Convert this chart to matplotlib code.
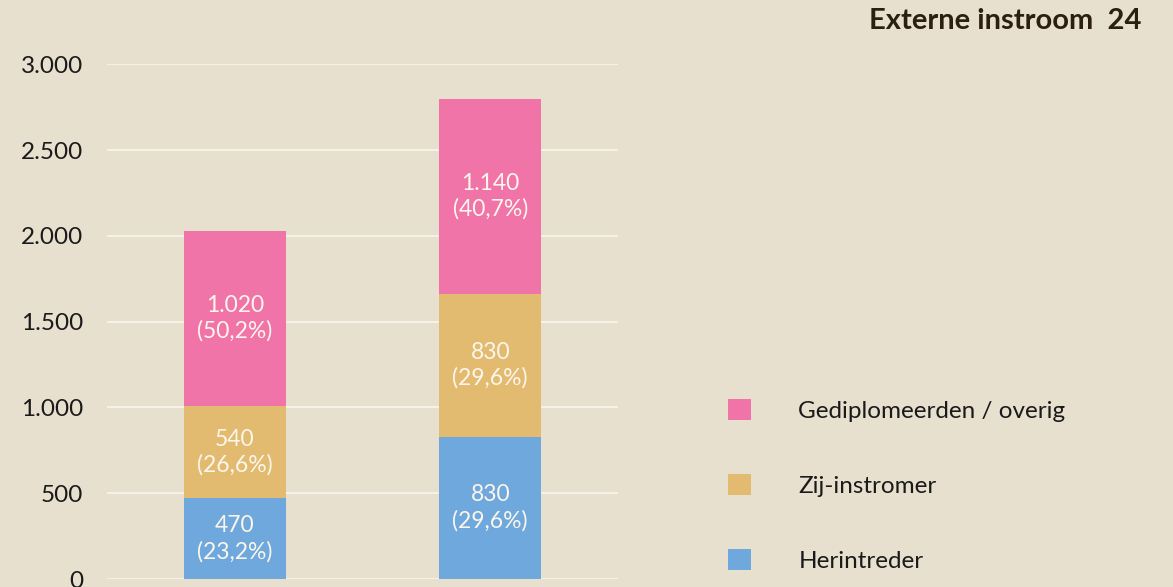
import matplotlib.pyplot as plt

# Data
categories = ['A', 'B']
herintreder = [470, 830]
zij_instromer = [540, 830]
gediplomeerden = [1020, 1140]
series_names = ['Herintreder', 'Zij-instromer', 'Gediplomeerden / overig']
colors = ['#6FA8DC', '#E3BB70', '#F074A8']
title = 'Externe instroom  24'

bg = '#E8E0CE'
plt.rcParams['font.family'] = ['Lato', 'DejaVu Sans']

fig = plt.figure(figsize=(11.73, 5.87), dpi=100, facecolor=bg)
ax = fig.add_axes([0.0912, 0.0136, 0.4356, 0.877], facecolor=bg)

x = range(len(categories))
series = [herintreder, zij_instromer, gediplomeerden]
totals = [sum(v) for v in zip(*series)]

bottoms = [0] * len(categories)
handles = []
for vals, name, col in zip(series, series_names, colors):
    bars = ax.bar(x, vals, width=0.4, bottom=bottoms, color=col, label=name, zorder=3)
    handles.append(bars)
    for i, bar in enumerate(bars):
        v = vals[i]
        pct = v / totals[i] * 100
        txt = f'{v:,}'.replace(',', '.') + '\n' + f'({pct:.1f}%)'.replace('.', ',')
        ax.text(bar.get_x() + bar.get_width() / 2, bottoms[i] + v / 2, txt,
                ha='center', va='center', color='#FBF6EC', fontsize=16.5,
                linespacing=1.25, zorder=4)
    bottoms = [b + v for b, v in zip(bottoms, vals)]

ax.set_xlim(-0.5, 1.5)
ax.set_ylim(0, 3000)
ax.set_yticks(range(0, 3001, 500))
ax.set_yticklabels([f'{t:,}'.replace(',', '.') for t in range(0, 3001, 500)])
ax.set_xticks([])
ax.tick_params(axis='y', length=0, pad=17, labelsize=17.5, labelcolor='#1A1A1A')
ax.grid(axis='y', color='#F8F3EA', linewidth=1.3, zorder=0)
for s in ax.spines.values():
    s.set_visible(False)

fig.text(0.9727, 0.965, title, ha='right', va='center', fontsize=21,
         fontweight='bold', color='#2A1F10')

leg = fig.legend(handles[::-1], series_names[::-1], loc='lower left',
                 bbox_to_anchor=(0.602, -0.012), frameon=False, fontsize=17.5,
                 handlelength=0.94, handleheight=0.94, handletextpad=1.95,
                 labelspacing=2.16, labelcolor='#1A1A1A')

fig.savefig('out.png', dpi=100, facecolor=bg)
